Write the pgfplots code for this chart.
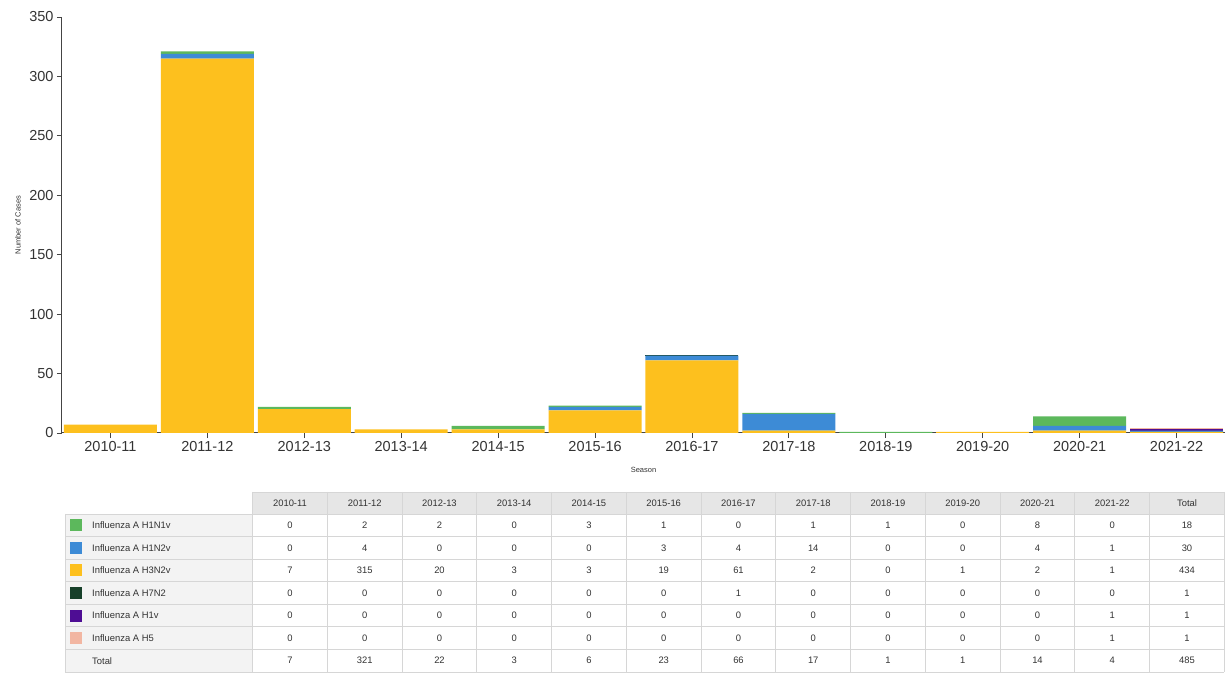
\documentclass[border=0pt]{standalone}
\usepackage{fontspec}
\setmainfont{Liberation Sans}
\usepackage{pgfplots}
\pgfplotsset{compat=1.18}

\definecolor{cH1N1}{HTML}{5CB85C}
\definecolor{cH1N2}{HTML}{3D8BD6}
\definecolor{cH3N2}{HTML}{FDC01E}
\definecolor{cH7N2}{HTML}{17402A}
\definecolor{cH1v}{HTML}{4E0D94}
\definecolor{cH5}{HTML}{F2B6A2}
\definecolor{axisgray}{HTML}{444444}
\definecolor{labelgray}{HTML}{333333}
\definecolor{gridgray}{HTML}{D6D6D6}
\definecolor{headgray}{HTML}{E6E6E6}
\definecolor{rowgray}{HTML}{F3F3F3}

\begin{document}
\begin{tikzpicture}
\useasboundingbox (0,0) rectangle (1225pt,672pt);
\begin{axis}[
    at={(62pt,239pt)}, anchor=south west,
    scale only axis, width=1163pt, height=416pt,
    xmin=-0.5, xmax=11.5, ymin=0, ymax=350,
    ybar stacked, bar width=0.96,
    axis x line*=bottom, axis y line*=left,
    xtick={0,...,11},
    xticklabels={2010-11,2011-12,2012-13,2013-14,2014-15,2015-16,2016-17,2017-18,2018-19,2019-20,2020-21,2021-22},
    ytick={0,50,...,350},
    tick align=outside, major tick length=5pt,
    tick style={color=axisgray, line width=0.8pt},
    axis line style={axisgray, line width=1pt},
    ticklabel style={font=\fontsize{14.5}{16}\selectfont, text=labelgray},
    /pgf/number format/assume math mode=true,
    xlabel={Season}, ylabel={Number of Cases},
    label style={font=\fontsize{7.5}{9}\selectfont, text=labelgray},
    xlabel style={at={(axis description cs:0.5,0)}, yshift=-37pt, anchor=center},
    ylabel style={at={(axis description cs:-0.0378,0.5)}, anchor=center},
  ]
  % stacked from the bottom: H3N2v, H1N2v, H1N1v, H7N2, H1v, H5
  \addplot[fill=cH3N2, draw=none] coordinates {
    (0,7)(1,315)(2,20)(3,3)(4,3)(5,19)(6,61)(7,2)(8,0)(9,1)(10,2)(11,1)};
  \addplot[fill=cH1N2, draw=none] coordinates {
    (0,0)(1,4)(2,0)(3,0)(4,0)(5,3)(6,4)(7,14)(8,0)(9,0)(10,4)(11,1)};
  \addplot[fill=cH1N1, draw=none] coordinates {
    (0,0)(1,2)(2,2)(3,0)(4,3)(5,1)(6,0)(7,1)(8,1)(9,0)(10,8)(11,0)};
  \addplot[fill=cH7N2, draw=none] coordinates {
    (0,0)(1,0)(2,0)(3,0)(4,0)(5,0)(6,1)(7,0)(8,0)(9,0)(10,0)(11,0)};
  \addplot[fill=cH1v, draw=none] coordinates {
    (0,0)(1,0)(2,0)(3,0)(4,0)(5,0)(6,0)(7,0)(8,0)(9,0)(10,0)(11,1)};
  \addplot[fill=cH5, draw=none] coordinates {
    (0,0)(1,0)(2,0)(3,0)(4,0)(5,0)(6,0)(7,0)(8,0)(9,0)(10,0)(11,1)};
\end{axis}

% ---- data table below the chart ----
\def\xl{65}\def\xd{252.6}\def\cw{74.75}\def\xr{1224.4}
\def\ytop{180}\def\yh{158}\def\rh{22.57}
\fill[headgray] (\xd pt,\ytop pt) rectangle (\xr pt,\yh pt);
\fill[rowgray] (\xl pt,\yh pt) rectangle (\xd pt,0pt);
% grid
\draw[gridgray, line width=0.8pt] (\xd pt,\ytop pt) -- (\xr pt,\ytop pt);
\foreach \r in {0,...,7}{
  \pgfmathsetmacro\yy{\yh-\rh*\r}
  \draw[gridgray, line width=0.8pt] (\xl pt,\yy pt) -- (\xr pt,\yy pt);
}
\draw[gridgray, line width=0.8pt] (\xl pt,\yh pt) -- (\xl pt,0pt);
\foreach \c in {0,...,13}{
  \pgfmathsetmacro\xx{\xd+\cw*\c}
  \draw[gridgray, line width=0.8pt] (\xx pt,\ytop pt) -- (\xx pt,0pt);
}
% header
\foreach \h [count=\c from 0] in {2010-11,2011-12,2012-13,2013-14,2014-15,2015-16,2016-17,2017-18,2018-19,2019-20,2020-21,2021-22,Total}{
  \pgfmathsetmacro\xx{\xd+\cw*(\c+0.5)}
  \node[font=\fontsize{9.4}{11}\selectfont, text=labelgray] at (\xx pt,169pt) {\h};
}
% row labels with swatches
\foreach \lab/\col [count=\r] in {Influenza A H1N1v/cH1N1,Influenza A H1N2v/cH1N2,Influenza A H3N2v/cH3N2,Influenza A H7N2/cH7N2,Influenza A H1v/cH1v,Influenza A H5/cH5}{
  \pgfmathsetmacro\yy{\yh-\rh*(\r-0.5)}
  \fill[\col] (70pt,\yy pt-6pt) rectangle (82pt,\yy pt+6pt);
  \node[anchor=west, inner sep=0pt, font=\fontsize{9.4}{11}\selectfont, text=labelgray] at (92pt,\yy pt) {\lab};
}
\pgfmathsetmacro\yy{\yh-\rh*6.5}
\node[anchor=west, inner sep=0pt, font=\fontsize{9.4}{11}\selectfont, text=labelgray] at (92pt,\yy pt) {Total};
% values
\foreach \row [count=\r] in {
  {0,2,2,0,3,1,0,1,1,0,8,0,18},
  {0,4,0,0,0,3,4,14,0,0,4,1,30},
  {7,315,20,3,3,19,61,2,0,1,2,1,434},
  {0,0,0,0,0,0,1,0,0,0,0,0,1},
  {0,0,0,0,0,0,0,0,0,0,0,1,1},
  {0,0,0,0,0,0,0,0,0,0,0,1,1},
  {7,321,22,3,6,23,66,17,1,1,14,4,485}}{
  \pgfmathsetmacro\yy{\yh-\rh*(\r-0.5)}
  \foreach \v [count=\c from 0] in \row {
    \pgfmathsetmacro\xx{\xd+\cw*(\c+0.5)}
    \node[font=\fontsize{9.4}{11}\selectfont, text=labelgray] at (\xx pt,\yy pt) {\v};
  }
}
\end{tikzpicture}
\end{document}
